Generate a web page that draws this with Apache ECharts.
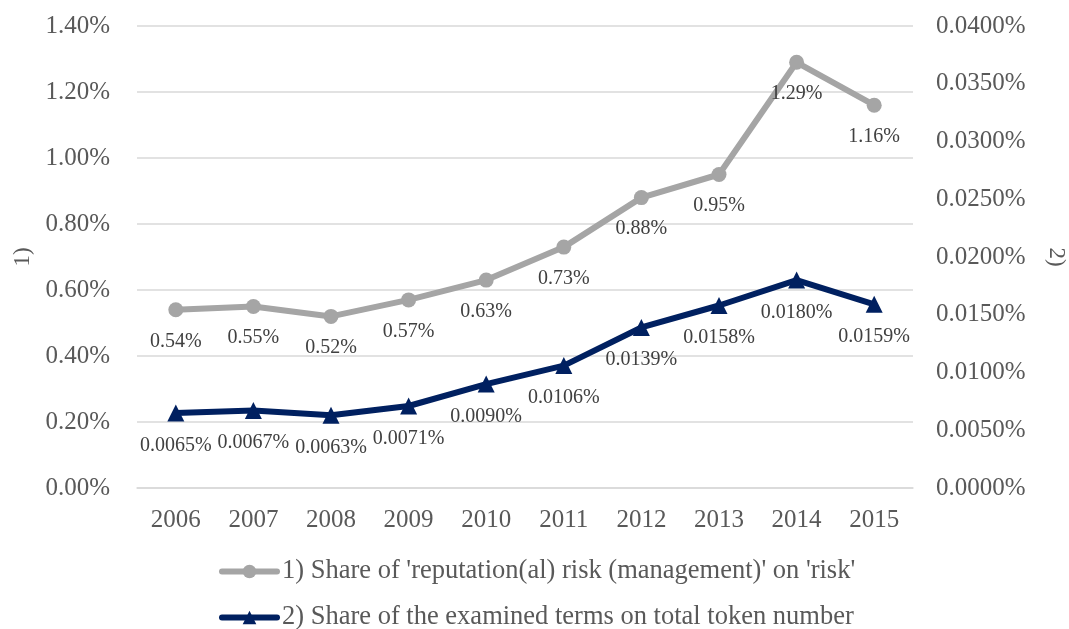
<!DOCTYPE html>
<html>
<head>
<meta charset="utf-8">
<script src="https://cdn.jsdelivr.net/npm/echarts@6/dist/echarts.min.js"></script>
<style>
  html, body { margin: 0; padding: 0; background: #ffffff; }
  #chart { width: 1069px; height: 629px; }
</style>
</head>
<body>
<div id="chart"></div>
<script>
// Years on the category axis
const years = ['2006', '2007', '2008', '2009', '2010', '2011', '2012', '2013', '2014', '2015'];

// 1) Share of 'reputation(al) risk (management)' on 'risk', in percent
const reputationShare = [0.54, 0.55, 0.52, 0.57, 0.63, 0.73, 0.88, 0.95, 1.29, 1.16];

// 2) Share of the examined terms on total token number, in percent
const tokenShare = [0.0065, 0.0067, 0.0063, 0.0071, 0.0090, 0.0106, 0.0139, 0.0158, 0.0180, 0.0159];

const seriesNames = [
  "1) Share of 'reputation(al) risk (management)' on 'risk'",
  '2) Share of the examined terms on total token number'
];

const FONT = '"Liberation Serif", "Times New Roman", serif';
const TEXT = '#595959';
const LABEL = '#404040';
const GRID = '#d9d9d9';
const GREY = '#a5a5a5';
const NAVY = '#002060';

const chart = echarts.init(document.getElementById('chart'), null, { renderer: 'canvas' });

// One legend per row so each entry sits on its own line
const legendRow = (name, top) => ({
  orient: 'vertical',
  left: 219,
  top: top,
  padding: 0,
  itemWidth: 55,
  itemHeight: 17,
  lineStyle: { width: 6, cap: 'round' },
  textStyle: { fontFamily: FONT, fontSize: 26.5, color: TEXT },
  data: [name]
});

chart.setOption({
  backgroundColor: '#ffffff',
  animation: false,
  textStyle: { fontFamily: FONT, color: TEXT },
  grid: { left: 137, right: 156, top: 26, bottom: 141, containLabel: false, outerBoundsMode: 'none' },
  legend: [
    legendRow(seriesNames[0], 558),
    legendRow(seriesNames[1], 604)
  ],
  xAxis: {
    type: 'category',
    data: years,
    boundaryGap: true,
    axisLine: { show: true, lineStyle: { color: GRID, width: 1.5 } },
    axisTick: { show: false },
    axisLabel: { fontFamily: FONT, fontSize: 25, color: TEXT, margin: 20 }
  },
  yAxis: [
    {
      type: 'value',
      min: 0,
      max: 1.4,
      interval: 0.2,
      name: '1)',
      nameLocation: 'middle',
      nameRotate: 90,
      nameGap: 103,
      nameMoveOverlap: false,
      nameTextStyle: { fontFamily: FONT, fontSize: 23, color: TEXT },
      axisLine: { show: false },
      axisTick: { show: false },
      splitLine: { lineStyle: { color: GRID, width: 1.5 } },
      axisLabel: {
        fontFamily: FONT, fontSize: 25, color: TEXT, margin: 27,
        formatter: v => v.toFixed(2) + '%'
      }
    },
    {
      type: 'value',
      min: 0,
      max: 0.04,
      interval: 0.005,
      name: '2)',
      nameLocation: 'middle',
      nameRotate: -90,
      nameGap: 132,
      nameMoveOverlap: false,
      nameTextStyle: { fontFamily: FONT, fontSize: 23, color: TEXT },
      axisLine: { show: false },
      axisTick: { show: false },
      splitLine: { show: false },
      axisLabel: {
        fontFamily: FONT, fontSize: 25, color: TEXT, margin: 23,
        formatter: v => v.toFixed(4) + '%'
      }
    }
  ],
  series: [
    {
      name: seriesNames[0],
      type: 'line',
      yAxisIndex: 0,
      data: reputationShare,
      symbol: 'circle',
      symbolSize: 15,
      lineStyle: { color: GREY, width: 6 },
      itemStyle: { color: GREY },
      label: {
        show: true,
        position: 'bottom',
        distance: 14,
        fontFamily: FONT,
        fontSize: 20,
        color: LABEL,
        formatter: p => p.value.toFixed(2) + '%'
      }
    },
    {
      name: seriesNames[1],
      type: 'line',
      yAxisIndex: 1,
      data: tokenShare,
      symbol: 'triangle',
      symbolSize: 17,
      lineStyle: { color: NAVY, width: 6 },
      itemStyle: { color: NAVY },
      label: {
        show: true,
        position: 'bottom',
        distance: 14,
        fontFamily: FONT,
        fontSize: 20,
        color: LABEL,
        formatter: p => p.value.toFixed(4) + '%'
      }
    }
  ]
});
</script>
</body>
</html>
